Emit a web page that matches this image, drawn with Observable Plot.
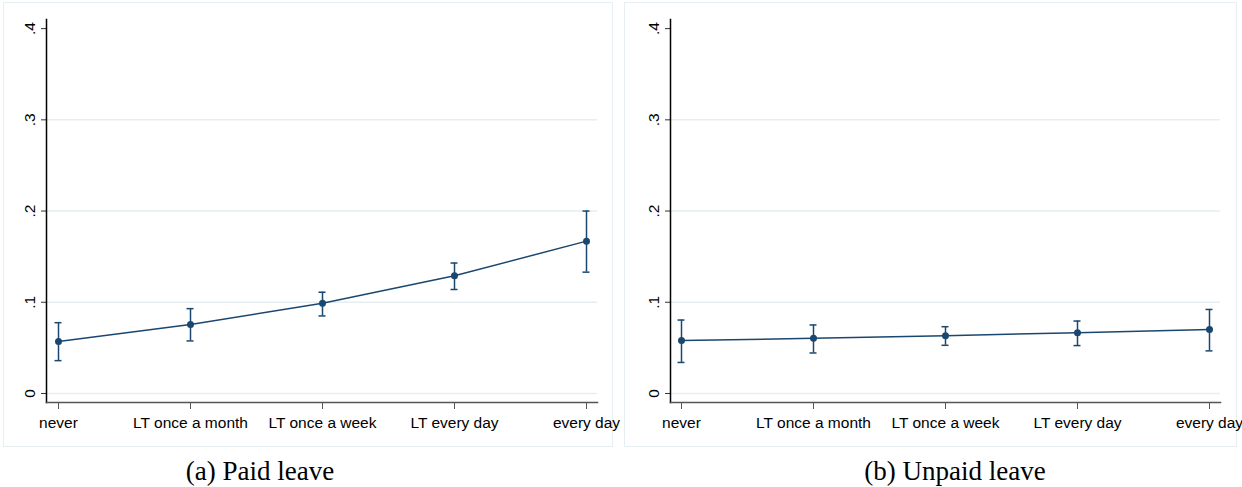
<!DOCTYPE html>
<html>
<head>
<meta charset="utf-8">
<script src="https://cdn.jsdelivr.net/npm/d3@7"></script>
<script src="https://cdn.jsdelivr.net/npm/@observablehq/plot@0.6"></script>
<style>
  html, body { margin: 0; padding: 0; background: #fff; }
  #wrap { position: relative; width: 1242px; height: 487px; overflow: hidden; background: #fff; }
  .frame { position: absolute; border: 1px solid #e8eff2; box-sizing: border-box; }
  .chart { position: absolute; top: 0; }
  .chart svg { overflow: visible; }
  .caption { position: absolute; width: 400px; text-align: center; font-family: "Liberation Serif", "Times New Roman", serif; font-size: 27px; line-height: 27px; color: #000; white-space: nowrap; }
</style>
</head>
<body>
<div id="wrap">
  <div class="frame" style="left:3px;top:2px;width:610px;height:445px"></div>
  <div class="frame" style="left:624px;top:2px;width:613px;height:445px"></div>
  <div class="chart" id="left" style="left:0px"></div>
  <div class="chart" id="right" style="left:624px"></div>
  <div class="caption" style="left:60px;top:458px">(a) Paid leave</div>
  <div class="caption" style="left:755px;top:458px">(b) Unpaid leave</div>
</div>
<script>
const categories = ["never", "LT once a month", "LT once a week", "LT every day", "every day"];

const paidEst = [0.057, 0.0755, 0.099, 0.129, 0.167];
const paidLo  = [0.036, 0.0576, 0.085, 0.114, 0.133];
const paidHi  = [0.0776, 0.093, 0.111, 0.143, 0.200];

const unpaidEst = [0.058, 0.0605, 0.0634, 0.0667, 0.070];
const unpaidLo  = [0.034, 0.0444, 0.0528, 0.0525, 0.0467];
const unpaidHi  = [0.0805, 0.0751, 0.0732, 0.0794, 0.0921];

const yTicks = [0, 0.1, 0.2, 0.3, 0.4];
const yTickLabels = ["0", ".1", ".2", ".3", ".4"];
const gridValues = [0, 0.1, 0.2, 0.3];

const navy = "#1a476f";

function panel(est, lo, hi, marginRight) {
  const rows = categories.map((c, i) => ({cat: c, est: est[i], lo: lo[i], hi: hi[i]}));
  return Plot.plot({
    width: 612,
    height: 447,
    marginLeft: 46,
    marginRight: marginRight,
    marginTop: 19,
    marginBottom: 45,
    style: {fontFamily: "'Liberation Sans', Arial, sans-serif", fontSize: "15.5px", background: "transparent", color: "#000", overflow: "visible"},
    x: {type: "point", domain: categories, padding: 0.0753, label: null},
    y: {domain: [-0.0099, 0.41], label: null},
    marks: [
      Plot.ruleY(gridValues, {stroke: "#e6eef1", strokeWidth: 1.5}),
      Plot.axisY({ticks: yTicks, tickSize: 5, tickFormat: () => "", label: null, stroke: "#333"}),
      Plot.text(yTicks, {y: d => d, text: (d, i) => yTickLabels[i], frameAnchor: "left", dx: -12, rotate: -90, textAnchor: "middle", lineAnchor: "bottom", fill: "#000"}),
      Plot.axisX({tickSize: 7, tickPadding: 7, label: null, stroke: "#555", fill: "#000"}),
      Plot.frame({anchor: "left", stroke: "#000", strokeWidth: 1.5}),
      Plot.frame({anchor: "bottom", stroke: "#555", strokeWidth: 1.5}),
      Plot.ruleX(rows, {x: "cat", y1: "lo", y2: "hi", stroke: navy, strokeWidth: 1.5}),
      Plot.ruleY(rows, {x1: "cat", x2: "cat", y: "lo", insetLeft: -3.5, insetRight: -3.5, stroke: navy, strokeWidth: 1.5}),
      Plot.ruleY(rows, {x1: "cat", x2: "cat", y: "hi", insetLeft: -3.5, insetRight: -3.5, stroke: navy, strokeWidth: 1.5}),
      Plot.line(rows, {x: "cat", y: "est", stroke: navy, strokeWidth: 1.5}),
      Plot.dot(rows, {x: "cat", y: "est", r: 3.5, fill: navy, stroke: "none"})
    ]
  });
}

document.getElementById("left").append(panel(paidEst, paidLo, paidHi, 15));
document.getElementById("right").append(panel(unpaidEst, unpaidLo, unpaidHi, 16));
</script>
</body>
</html>
